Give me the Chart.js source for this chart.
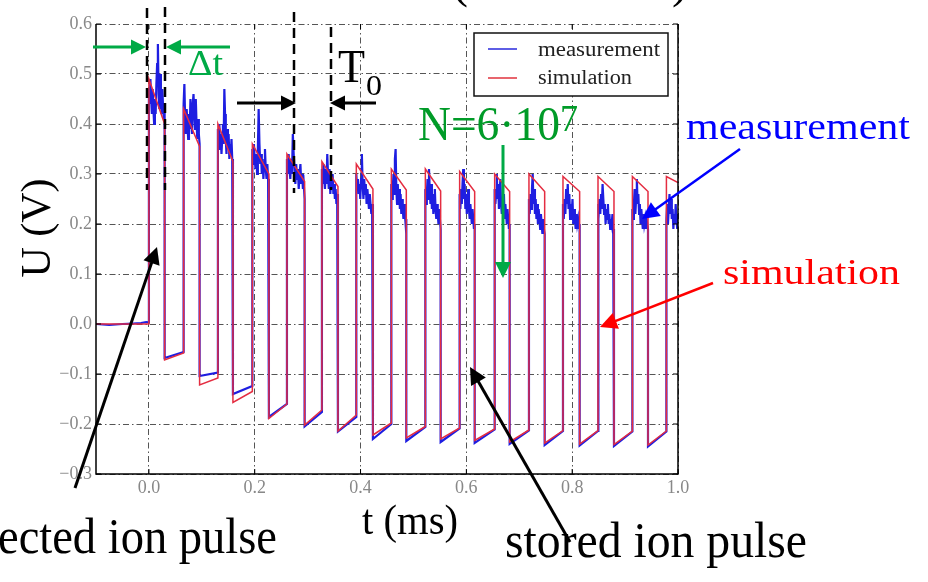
<!DOCTYPE html>
<html>
<head>
<meta charset="utf-8">
<script src="https://cdn.jsdelivr.net/npm/chart.js@4.4.0/dist/chart.umd.min.js"></script>
<style>
    body { margin: 0; background: #fff; }
    #wrap { width: 928px; height: 582px; position: relative; }
</style>
</head>
<body>
<div id="wrap"><canvas id="pulseChart"></canvas></div>
<script>
// axis ticks
const xTicks = [0.0, 0.2, 0.4, 0.6, 0.8, 1.0];
const yTicks = [-0.3, -0.2, -0.1, 0.0, 0.1, 0.2, 0.3, 0.4, 0.5, 0.6];

// pulse edges in ms
const riseTimes = [0.000, 0.0656, 0.1304, 0.1955, 0.2609, 0.3270, 0.3920, 0.4582, 0.5225, 0.5873, 0.6535, 0.7183, 0.7826, 0.8488, 0.9138, 0.9781];
const fallTimes = [0.0297, 0.0958, 0.1588, 0.2268, 0.2943, 0.3573, 0.4234, 0.4865, 0.5514, 0.6157, 0.6818, 0.7480, 0.8141, 0.8790, 0.9433, 1.0];

// simulation (red): level right after the rise / right before the fall, and the low phase
const simHighStart = [0.49, 0.43, 0.40, 0.36, 0.34, 0.325, 0.32, 0.31, 0.31, 0.305, 0.30, 0.30, 0.295, 0.295, 0.295, 0.295];
const simHighEnd = [0.40, 0.355, 0.325, 0.30, 0.285, 0.275, 0.27, 0.268, 0.266, 0.265, 0.265, 0.265, 0.265, 0.265, 0.265, 0.283];
const simLowStart = [-0.072, -0.122, -0.157, -0.189, -0.202, -0.214, -0.222, -0.228, -0.230, -0.233, -0.236, -0.238, -0.240, -0.241, -0.242];
const simLowEnd = [-0.058, -0.108, -0.135, -0.160, -0.172, -0.182, -0.198, -0.205, -0.208, -0.210, -0.212, -0.213, -0.213, -0.214, -0.214];

// measurement (blue): baseline before injection
const preTimes = [-0.1, -0.075, -0.05, -0.03, -0.015, -0.005, 0.0];
const preMeas = [0.0, -0.002, 0.0, 0.001, 0.002, 0.004, 0.003];

// measurement samples across each high phase
const measHigh = [
    [0.47, 0.44, 0.49, 0.45, 0.42, 0.47, 0.43, 0.40, 0.45, 0.42, 0.48, 0.52, 0.56, 0.46, 0.43, 0.50, 0.45, 0.42, 0.47, 0.43, 0.41, 0.44],
    [0.44, 0.48, 0.41, 0.38, 0.43, 0.40, 0.37, 0.42, 0.39, 0.45, 0.41, 0.38, 0.44, 0.46, 0.42, 0.39, 0.45, 0.40, 0.37, 0.41, 0.38, 0.36],
    [0.39, 0.36, 0.40, 0.35, 0.38, 0.34, 0.37, 0.40, 0.36, 0.47, 0.42, 0.37, 0.34, 0.39, 0.35, 0.38, 0.33, 0.36, 0.34, 0.37, 0.33, 0.31],
    [0.35, 0.32, 0.36, 0.33, 0.31, 0.34, 0.30, 0.35, 0.43, 0.36, 0.32, 0.34, 0.30, 0.33, 0.29, 0.32, 0.35, 0.31, 0.29, 0.32, 0.29, 0.27],
    [0.33, 0.30, 0.34, 0.31, 0.29, 0.33, 0.30, 0.38, 0.34, 0.31, 0.28, 0.32, 0.29, 0.31, 0.27, 0.30, 0.32, 0.28, 0.30, 0.27, 0.28, 0.25],
    [0.31, 0.28, 0.32, 0.29, 0.27, 0.31, 0.28, 0.34, 0.30, 0.27, 0.31, 0.26, 0.29, 0.27, 0.30, 0.26, 0.28, 0.25, 0.27, 0.24, 0.26, 0.23],
    [0.30, 0.27, 0.29, 0.26, 0.28, 0.25, 0.29, 0.34, 0.28, 0.25, 0.29, 0.26, 0.28, 0.24, 0.27, 0.25, 0.23, 0.26, 0.24, 0.22, 0.24, 0.21],
    [0.28, 0.25, 0.27, 0.30, 0.26, 0.33, 0.35, 0.27, 0.24, 0.28, 0.25, 0.27, 0.23, 0.26, 0.22, 0.25, 0.23, 0.21, 0.24, 0.22, 0.20, 0.21],
    [0.27, 0.24, 0.26, 0.29, 0.25, 0.31, 0.27, 0.24, 0.28, 0.23, 0.26, 0.22, 0.25, 0.27, 0.23, 0.21, 0.24, 0.22, 0.20, 0.23, 0.21, 0.19],
    [0.26, 0.23, 0.27, 0.24, 0.28, 0.31, 0.25, 0.28, 0.23, 0.26, 0.22, 0.25, 0.27, 0.23, 0.21, 0.24, 0.22, 0.20, 0.23, 0.21, 0.19, 0.20],
    [0.27, 0.24, 0.26, 0.30, 0.25, 0.28, 0.23, 0.26, 0.29, 0.24, 0.22, 0.25, 0.23, 0.26, 0.21, 0.24, 0.22, 0.20, 0.23, 0.21, 0.19, 0.20],
    [0.25, 0.22, 0.26, 0.23, 0.27, 0.30, 0.24, 0.27, 0.22, 0.25, 0.21, 0.24, 0.20, 0.23, 0.21, 0.19, 0.22, 0.20, 0.18, 0.21, 0.19, 0.18],
    [0.24, 0.21, 0.25, 0.22, 0.27, 0.24, 0.28, 0.23, 0.26, 0.21, 0.24, 0.22, 0.25, 0.20, 0.23, 0.21, 0.19, 0.22, 0.20, 0.21, 0.19, 0.20],
    [0.24, 0.21, 0.25, 0.22, 0.26, 0.23, 0.28, 0.25, 0.22, 0.24, 0.20, 0.23, 0.21, 0.24, 0.20, 0.22, 0.19, 0.21, 0.20, 0.22, 0.19, 0.19],
    [0.23, 0.21, 0.24, 0.27, 0.22, 0.25, 0.29, 0.24, 0.26, 0.22, 0.24, 0.20, 0.23, 0.21, 0.19, 0.22, 0.20, 0.21, 0.19, 0.21, 0.20, 0.19],
    [0.21, 0.24, 0.20, 0.23, 0.26, 0.22, 0.25, 0.21, 0.23, 0.19, 0.22, 0.20, 0.24, 0.21, 0.19, 0.22]
];
const measLowStart = [-0.068, -0.104, -0.140, -0.186, -0.205, -0.215, -0.230, -0.234, -0.236, -0.238, -0.240, -0.242, -0.243, -0.244, -0.245];
const measLowEnd = [-0.056, -0.097, -0.124, -0.160, -0.176, -0.186, -0.200, -0.206, -0.209, -0.211, -0.213, -0.214, -0.214, -0.215, -0.215];

function buildSimulation() {
    const pts = [{ x: -0.1, y: 0 }, { x: 0, y: 0 }];
    riseTimes.forEach((t, i) => {
        pts.push({ x: t, y: simHighStart[i] });
        pts.push({ x: fallTimes[i], y: simHighEnd[i] });
        if (i < simLowStart.length) {
            pts.push({ x: fallTimes[i], y: simLowStart[i] });
            pts.push({ x: riseTimes[i + 1], y: simLowEnd[i] });
        }
    });
    return pts;
}

function buildMeasurement() {
    const pts = preTimes.map((t, i) => ({ x: t, y: preMeas[i] }));
    riseTimes.forEach((t, i) => {
        const vals = measHigh[i];
        const dur = fallTimes[i] - t;
        vals.forEach((v, k) => {
            pts.push({ x: t + dur * k / (vals.length - 1), y: v });
        });
        if (i < measLowStart.length) {
            pts.push({ x: fallTimes[i], y: measLowStart[i] });
            pts.push({ x: riseTimes[i + 1], y: measLowEnd[i] });
        }
    });
    return pts;
}

function fmtTick(v) {
    return (v < 0 ? '\u2212' : '') + Math.abs(v).toFixed(1);
}

function drawText(ctx, text, x, y, size, color, width, align) {
    ctx.save();
    ctx.font = size + 'px "Liberation Serif"';
    const w = ctx.measureText(text).width;
    ctx.translate(x, y);
    ctx.scale(width ? width / w : 1, 1);
    ctx.fillStyle = color;
    ctx.textBaseline = 'alphabetic';
    ctx.textAlign = align || 'left';
    ctx.fillText(text, 0, 0);
    ctx.restore();
}

function drawArrow(ctx, x1, y1, x2, y2, color, lw, head) {
    const ang = Math.atan2(y2 - y1, x2 - x1);
    ctx.save();
    ctx.strokeStyle = color;
    ctx.fillStyle = color;
    ctx.lineWidth = lw;
    ctx.beginPath();
    ctx.moveTo(x1, y1);
    ctx.lineTo(x2 - Math.cos(ang) * head * 0.8, y2 - Math.sin(ang) * head * 0.8);
    ctx.stroke();
    ctx.translate(x2, y2);
    ctx.rotate(ang);
    ctx.beginPath();
    ctx.moveTo(0, 0);
    ctx.lineTo(-head, -head * 0.5);
    ctx.lineTo(-head, head * 0.5);
    ctx.closePath();
    ctx.fill();
    ctx.restore();
}

function dashedLine(ctx, x, y1, y2) {
    ctx.save();
    ctx.strokeStyle = '#000';
    ctx.lineWidth = 2.5;
    ctx.setLineDash([10, 6]);
    ctx.beginPath();
    ctx.moveTo(x, y1);
    ctx.lineTo(x, y2);
    ctx.stroke();
    ctx.restore();
}

const overlay = {
    id: 'overlay',
    afterDraw(chart) {
        const ctx = chart.ctx;
        const a = chart.chartArea;
        const xs = chart.scales.x, ys = chart.scales.y;

        // frame and inward ticks
        ctx.save();
        ctx.strokeStyle = '#000';
        ctx.lineWidth = 1.5;
        ctx.beginPath();
        ctx.moveTo(a.left, a.top);
        ctx.lineTo(a.left, a.bottom);
        ctx.lineTo(a.right, a.bottom);
        ctx.lineTo(a.right, a.top);
        ctx.stroke();
        ctx.lineWidth = 1;
        ctx.beginPath();
        xTicks.forEach(v => {
            const px = xs.getPixelForValue(v);
            ctx.moveTo(px, a.bottom); ctx.lineTo(px, a.bottom - 5);
            ctx.moveTo(px, a.top); ctx.lineTo(px, a.top + 5);
        });
        yTicks.forEach(v => {
            const py = ys.getPixelForValue(v);
            ctx.moveTo(a.left, py); ctx.lineTo(a.left + 5, py);
            ctx.moveTo(a.right, py); ctx.lineTo(a.right - 5, py);
        });
        ctx.stroke();
        ctx.restore();

        // legend
        ctx.save();
        ctx.fillStyle = '#fff';
        ctx.fillRect(474, 33, 194, 63);
        ctx.strokeStyle = '#111';
        ctx.lineWidth = 1.5;
        ctx.strokeRect(474, 33, 194, 63);
        ctx.lineWidth = 1.5;
        ctx.strokeStyle = 'rgb(40,40,220)';
        ctx.beginPath(); ctx.moveTo(488, 49); ctx.lineTo(517, 49); ctx.stroke();
        ctx.strokeStyle = 'rgb(225,50,60)';
        ctx.beginPath(); ctx.moveTo(488, 78); ctx.lineTo(517, 78); ctx.stroke();
        ctx.restore();
        drawText(ctx, 'measurement', 538, 56, 20, '#222', 122);
        drawText(ctx, 'simulation', 538, 84, 20, '#222', 94);

        // dashed markers
        dashedLine(ctx, 147, 8, 190);
        dashedLine(ctx, 165, 7, 190);
        dashedLine(ctx, 294, 12, 193);
        dashedLine(ctx, 331, 27, 190);

        // Δt
        const green = 'rgb(0,170,70)';
        drawArrow(ctx, 93, 47, 146, 47, green, 3, 15);
        drawArrow(ctx, 230, 47, 166, 47, green, 3, 15);
        drawText(ctx, '\u0394t', 188, 75, 36, green, 35);

        // T0
        drawArrow(ctx, 237, 103, 296, 103, '#000', 3, 15);
        drawArrow(ctx, 376, 103, 330, 103, '#000', 3, 15);
        drawText(ctx, 'T', 338, 82, 46, '#000', 27);
        drawText(ctx, '0', 366, 95, 30, '#000', 16);

        // N
        drawText(ctx, 'N=6\u00b710', 418, 140, 48, 'rgb(0,155,40)', 142);
        drawText(ctx, '7', 560, 131, 38, 'rgb(0,155,40)', 18);
        drawArrow(ctx, 503, 145, 503, 278, green, 3, 16);

        // series labels
        drawText(ctx, 'measurement', 686, 139, 38, '#0000ff', 224);
        drawArrow(ctx, 740, 149, 642, 219, '#0000ff', 2.5, 17);
        drawText(ctx, 'simulation', 723, 284, 36, '#ff0000', 177);
        drawArrow(ctx, 713, 283, 600, 327, '#ff0000', 2.5, 17);

        // axis titles
        ctx.save();
        ctx.translate(50, 228);
        ctx.rotate(-Math.PI / 2);
        drawText(ctx, 'U (V)', 0, 0, 42, '#000', 99, 'center');
        ctx.restore();
        drawText(ctx, 't (ms)', 362, 534, 42, '#000', 96);

        // pulse labels
        ctx.save();
        ctx.font = '50px "Liberation Serif"';
        const full = ctx.measureText('injected ion pulse').width;
        const part = ctx.measureText('ected ion pulse').width;
        ctx.restore();
        drawText(ctx, 'injected ion pulse', 277, 553, 50, '#000', 279 * full / part, 'right');
        drawArrow(ctx, 75, 488, 157, 247, '#000', 3, 17);
        drawText(ctx, 'stored ion pulse', 505, 557, 50, '#000', 302);
        drawArrow(ctx, 570, 542, 470, 367, '#000', 3, 17);

        // cut-off title brackets
        drawText(ctx, '(', 452, -3, 48, '#000');
        drawText(ctx, ')', 672, -3, 48, '#000');
    }
};

document.addEventListener('DOMContentLoaded', function () {
    const ctx = document.getElementById('pulseChart').getContext('2d');
    new Chart(ctx, {
        type: 'line',
        data: {
            datasets: [
                {
                    label: 'measurement',
                    data: buildMeasurement(),
                    borderColor: 'rgb(30,30,225)',
                    borderWidth: 2.2,
                    pointRadius: 0,
                    tension: 0,
                    order: 2
                },
                {
                    label: 'simulation',
                    data: buildSimulation(),
                    borderColor: 'rgb(228,45,65)',
                    borderWidth: 1.5,
                    pointRadius: 0,
                    tension: 0,
                    order: 1
                }
            ]
        },
        options: {
            responsive: true,
            maintainAspectRatio: false,
            animation: false,
            layout: { padding: { left: 0, top: 24, right: 250, bottom: 0 } },
            plugins: {
                legend: { display: false },
                tooltip: { enabled: false }
            },
            scales: {
                x: {
                    type: 'linear',
                    min: -0.1,
                    max: 1.0,
                    afterBuildTicks: s => { s.ticks = xTicks.map(v => ({ value: v })); },
                    afterFit: s => { s.height = 108; },
                    grid: { color: '#555', lineWidth: 1, drawTicks: false },
                    border: { display: false, dash: [6, 3, 1.5, 3] },
                    ticks: {
                        padding: 3,
                        color: '#888',
                        autoSkip: false,
                        maxRotation: 0,
                        font: { family: 'Liberation Serif', size: 18 },
                        callback: v => fmtTick(v)
                    }
                },
                y: {
                    min: -0.3,
                    max: 0.6,
                    afterBuildTicks: s => { s.ticks = yTicks.map(v => ({ value: v })); },
                    afterFit: s => { s.width = 96; },
                    grid: { color: '#555', lineWidth: 1, drawTicks: false },
                    border: { display: false, dash: [6, 3, 1.5, 3] },
                    ticks: {
                        padding: 4,
                        color: '#888',
                        autoSkip: false,
                        font: { family: 'Liberation Serif', size: 18 },
                        callback: v => fmtTick(v)
                    }
                }
            }
        },
        plugins: [overlay]
    });
});
</script>
</body>
</html>
